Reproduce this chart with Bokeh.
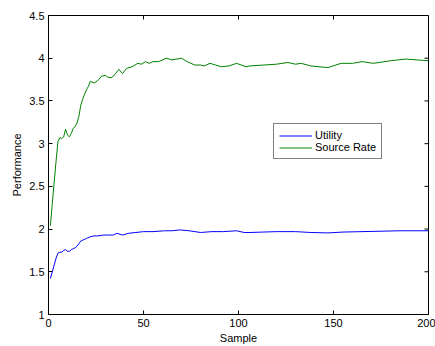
from bokeh.plotting import figure
from bokeh.models import Range1d, FixedTicker, Legend, LegendItem
from bokeh.embed import file_html
from bokeh.resources import INLINE

# ---- data ----
src_x = [1, 2, 3, 4, 5, 6, 7, 8, 9, 10, 11, 12, 13, 14, 15, 16, 17, 18, 19, 20,
         21, 22, 24, 26, 28, 30, 31, 33, 35, 37, 39, 41, 44, 47, 49, 51, 53, 55,
         58, 62, 65, 70, 73, 77, 80, 82, 85, 88, 91, 95, 99, 104, 106, 113, 120,
         126, 130, 133, 138, 147, 154, 160, 165, 171, 180, 188, 194, 200]
src_y = [2.04, 2.30, 2.55, 2.80, 3.03, 3.07, 3.06, 3.08, 3.17, 3.10, 3.08, 3.12,
         3.18, 3.20, 3.24, 3.32, 3.45, 3.52, 3.58, 3.63, 3.67, 3.73, 3.71, 3.74,
         3.79, 3.80, 3.78, 3.77, 3.81, 3.87, 3.82, 3.88, 3.90, 3.94, 3.93, 3.96,
         3.94, 3.96, 3.96, 4.00, 3.98, 4.00, 3.96, 3.92, 3.92, 3.91, 3.94, 3.92,
         3.90, 3.91, 3.94, 3.90, 3.91, 3.92, 3.93, 3.95, 3.93, 3.94, 3.91, 3.89,
         3.94, 3.94, 3.96, 3.94, 3.97, 3.99, 3.98, 3.97]

util_x = [1, 2, 3, 4, 5, 6, 7, 8, 9, 10, 11, 12, 13, 14, 15, 16, 17, 18, 20, 22,
          24, 26, 29, 31, 34, 36, 39, 42, 46, 50, 55, 61, 65, 69, 74, 80, 86, 92,
          99, 103, 106, 113, 120, 126, 130, 138, 147, 155, 165, 175, 185, 193, 200]
util_y = [1.42, 1.50, 1.58, 1.66, 1.72, 1.73, 1.73, 1.75, 1.76, 1.74, 1.74, 1.76,
          1.77, 1.78, 1.80, 1.83, 1.86, 1.87, 1.89, 1.91, 1.92, 1.92, 1.93, 1.93,
          1.93, 1.95, 1.93, 1.95, 1.96, 1.97, 1.97, 1.98, 1.98, 1.99, 1.98, 1.96,
          1.97, 1.97, 1.98, 1.96, 1.96, 1.965, 1.97, 1.97, 1.97, 1.96, 1.955,
          1.965, 1.97, 1.975, 1.98, 1.98, 1.98]

x_ticks = [0, 50, 100, 150, 200]
y_ticks = [1, 1.5, 2, 2.5, 3, 3.5, 4, 4.5]
y_tick_labels = ["1", "1.5", "2", "2.5", "3", "3.5", "4", "4.5"]
series_names = ["Utility", "Source Rate"]

FONT = "Liberation Sans"
X0, X1, Y0, Y1 = 0, 200, 1, 4.5
FRAME_W, FRAME_H = 380, 299
TICK_PX = 4

p = figure(width=435, height=346, output_backend="svg", toolbar_location=None,
           x_range=Range1d(X0, X1), y_range=Range1d(Y0, Y1),
           min_border_left=48, min_border_right=7, min_border_top=15,
           min_border_bottom=32)
p.background_fill_color = "white"
p.border_fill_color = "white"
p.outline_line_color = "black"
p.xgrid.visible = False
p.ygrid.visible = False

r_util = p.line(util_x, util_y, line_color="#0000ff", line_width=1)
r_src = p.line(src_x, src_y, line_color="#008000", line_width=1)

# inward ticks on the top and right edges (MATLAB box style)
dy = (Y1 - Y0) / FRAME_H * TICK_PX
dx = (X1 - X0) / FRAME_W * TICK_PX
p.segment(x0=x_ticks, y0=[Y1] * len(x_ticks), x1=x_ticks,
          y1=[Y1 - dy] * len(x_ticks), line_color="black", line_width=1)
p.segment(x0=[X1] * len(y_ticks), y0=y_ticks, x1=[X1 - dx] * len(y_ticks),
          y1=y_ticks, line_color="black", line_width=1)

def style(ax):
    ax.axis_line_color = "black"
    ax.major_tick_line_color = "black"
    ax.major_tick_in = TICK_PX
    ax.major_tick_out = 0
    ax.minor_tick_line_color = None
    ax.major_label_text_font = FONT
    ax.major_label_text_font_size = "11px"
    ax.major_label_text_color = "black"
    ax.axis_label_text_font = FONT
    ax.axis_label_text_font_size = "11px"
    ax.axis_label_text_font_style = "normal"
    ax.axis_label_text_color = "black"

xa = p.xaxis[0]
ya = p.yaxis[0]
style(xa)
style(ya)
xa.ticker = FixedTicker(ticks=x_ticks)
ya.ticker = FixedTicker(ticks=y_ticks)
ya.major_label_overrides = {t: l for t, l in zip(y_ticks, y_tick_labels)}
xa.axis_label = "Sample"
ya.axis_label = "Performance"
xa.major_label_standoff = 4
xa.axis_label_standoff = 2
ya.major_label_standoff = 4
ya.axis_label_standoff = 3

legend = Legend(items=[LegendItem(label=series_names[0], renderers=[r_util]),
                       LegendItem(label=series_names[1], renderers=[r_src])],
                location=(225, 155))
legend.border_line_color = "black"
legend.border_line_width = 1
legend.background_fill_color = "white"
legend.background_fill_alpha = 1
legend.label_text_font = FONT
legend.label_text_font_size = "11px"
legend.label_text_color = "black"
legend.glyph_width = 33
legend.glyph_height = 11
legend.label_height = 11
legend.label_standoff = 3
legend.spacing = 0
legend.padding = 5
legend.margin = 0
p.add_layout(legend)

open("out.html", "w").write(file_html(p, INLINE))
